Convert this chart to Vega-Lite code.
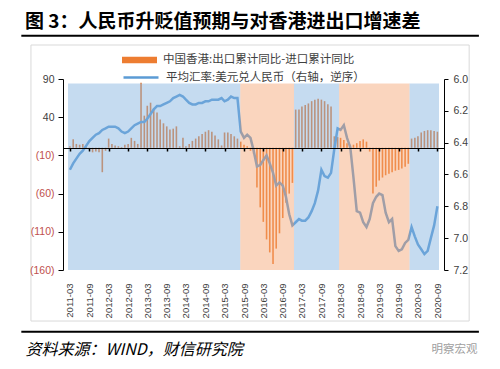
{
  "$schema": "https://vega.github.io/schema/vega-lite/v6.json",
  "width": 381,
  "height": 191,
  "autosize": {"type": "none"},
  "padding": {"left": 63, "top": 79, "right": 56, "bottom": 99},
  "background": "white",
  "title": {
    "text": "图 3：人民币升贬值预期与对香港进出口增速差",
    "anchor": "start",
    "frame": "group",
    "dx": -38,
    "offset": 3,
    "fontSize": 19,
    "font": "Noto Sans CJK SC",
    "fontWeight": "bold",
    "color": "#000000"
  },
  "config": {"view": {"stroke": null}, "axis": {"grid": false}},
  "datasets": {
    "main": [
      {"m": "2011-03-01", "hk": 2, "fx": 6.57},
      {"m": "2011-04-01", "hk": 11, "fx": 6.53},
      {"m": "2011-05-01", "hk": 5, "fx": 6.50},
      {"m": "2011-06-01", "hk": 4, "fx": 6.47},
      {"m": "2011-07-01", "hk": 5, "fx": 6.45},
      {"m": "2011-08-01", "hk": 3, "fx": 6.42},
      {"m": "2011-09-01", "hk": -2, "fx": 6.39},
      {"m": "2011-10-01", "hk": -6, "fx": 6.37},
      {"m": "2011-11-01", "hk": -5, "fx": 6.35},
      {"m": "2011-12-01", "hk": -6, "fx": 6.34},
      {"m": "2012-01-01", "hk": -32, "fx": 6.32},
      {"m": "2012-02-01", "hk": -4, "fx": 6.31},
      {"m": "2012-03-01", "hk": 12, "fx": 6.30},
      {"m": "2012-04-01", "hk": 5, "fx": 6.30},
      {"m": "2012-05-01", "hk": 3, "fx": 6.30},
      {"m": "2012-06-01", "hk": 2, "fx": 6.31},
      {"m": "2012-07-01", "hk": 1, "fx": 6.33},
      {"m": "2012-08-01", "hk": 4, "fx": 6.34},
      {"m": "2012-09-01", "hk": 5, "fx": 6.33},
      {"m": "2012-10-01", "hk": 13, "fx": 6.31},
      {"m": "2012-11-01", "hk": 9, "fx": 6.29},
      {"m": "2012-12-01", "hk": 5, "fx": 6.28},
      {"m": "2013-01-01", "hk": 85, "fx": 6.27},
      {"m": "2013-02-01", "hk": 42, "fx": 6.27},
      {"m": "2013-03-01", "hk": 55, "fx": 6.25},
      {"m": "2013-04-01", "hk": 59, "fx": 6.22},
      {"m": "2013-05-01", "hk": 52, "fx": 6.19},
      {"m": "2013-06-01", "hk": 46, "fx": 6.17},
      {"m": "2013-07-01", "hk": 37, "fx": 6.17},
      {"m": "2013-08-01", "hk": 32, "fx": 6.16},
      {"m": "2013-09-01", "hk": 28, "fx": 6.15},
      {"m": "2013-10-01", "hk": 24, "fx": 6.14},
      {"m": "2013-11-01", "hk": 25, "fx": 6.12},
      {"m": "2013-12-01", "hk": 28, "fx": 6.11},
      {"m": "2014-01-01", "hk": 2, "fx": 6.10},
      {"m": "2014-02-01", "hk": 13, "fx": 6.11},
      {"m": "2014-03-01", "hk": 2, "fx": 6.13},
      {"m": "2014-04-01", "hk": 5, "fx": 6.15},
      {"m": "2014-05-01", "hk": 9, "fx": 6.16},
      {"m": "2014-06-01", "hk": 12, "fx": 6.16},
      {"m": "2014-07-01", "hk": 15, "fx": 6.15},
      {"m": "2014-08-01", "hk": 18, "fx": 6.15},
      {"m": "2014-09-01", "hk": 21, "fx": 6.14},
      {"m": "2014-10-01", "hk": 23, "fx": 6.14},
      {"m": "2014-11-01", "hk": 21, "fx": 6.13},
      {"m": "2014-12-01", "hk": 16, "fx": 6.13},
      {"m": "2015-01-01", "hk": 11, "fx": 6.13},
      {"m": "2015-02-01", "hk": 3, "fx": 6.12},
      {"m": "2015-03-01", "hk": 20, "fx": 6.14},
      {"m": "2015-04-01", "hk": 20, "fx": 6.13},
      {"m": "2015-05-01", "hk": 18, "fx": 6.11},
      {"m": "2015-06-01", "hk": 15, "fx": 6.12},
      {"m": "2015-07-01", "hk": 12, "fx": 6.12},
      {"m": "2015-08-01", "hk": 8, "fx": 6.33},
      {"m": "2015-09-01", "hk": 4, "fx": 6.37},
      {"m": "2015-10-01", "hk": 2, "fx": 6.35},
      {"m": "2015-11-01", "hk": -4, "fx": 6.37},
      {"m": "2015-12-01", "hk": -8, "fx": 6.45},
      {"m": "2016-01-01", "hk": -52, "fx": 6.55},
      {"m": "2016-02-01", "hk": -78, "fx": 6.54},
      {"m": "2016-03-01", "hk": -97, "fx": 6.51},
      {"m": "2016-04-01", "hk": -120, "fx": 6.48},
      {"m": "2016-05-01", "hk": -137, "fx": 6.53},
      {"m": "2016-06-01", "hk": -152, "fx": 6.59},
      {"m": "2016-07-01", "hk": -132, "fx": 6.67},
      {"m": "2016-08-01", "hk": -112, "fx": 6.65},
      {"m": "2016-09-01", "hk": -92, "fx": 6.67},
      {"m": "2016-10-01", "hk": -72, "fx": 6.74},
      {"m": "2016-11-01", "hk": -60, "fx": 6.85},
      {"m": "2016-12-01", "hk": -46, "fx": 6.92},
      {"m": "2017-01-01", "hk": 50, "fx": 6.90},
      {"m": "2017-02-01", "hk": 50, "fx": 6.88},
      {"m": "2017-03-01", "hk": 54, "fx": 6.89},
      {"m": "2017-04-01", "hk": 56, "fx": 6.89},
      {"m": "2017-05-01", "hk": 58, "fx": 6.87},
      {"m": "2017-06-01", "hk": 61, "fx": 6.83},
      {"m": "2017-07-01", "hk": 63, "fx": 6.78},
      {"m": "2017-08-01", "hk": 64, "fx": 6.70},
      {"m": "2017-09-01", "hk": 63, "fx": 6.57},
      {"m": "2017-10-01", "hk": 61, "fx": 6.61},
      {"m": "2017-11-01", "hk": 57, "fx": 6.62},
      {"m": "2017-12-01", "hk": 54, "fx": 6.59},
      {"m": "2018-01-01", "hk": 15, "fx": 6.44},
      {"m": "2018-02-01", "hk": 14, "fx": 6.31},
      {"m": "2018-03-01", "hk": 13, "fx": 6.32},
      {"m": "2018-04-01", "hk": 10, "fx": 6.29},
      {"m": "2018-05-01", "hk": 6, "fx": 6.37},
      {"m": "2018-06-01", "hk": 4, "fx": 6.43},
      {"m": "2018-07-01", "hk": 4, "fx": 6.62},
      {"m": "2018-08-01", "hk": 6, "fx": 6.83},
      {"m": "2018-09-01", "hk": 9, "fx": 6.84},
      {"m": "2018-10-01", "hk": 11, "fx": 6.90},
      {"m": "2018-11-01", "hk": 8, "fx": 6.93},
      {"m": "2018-12-01", "hk": -5, "fx": 6.88},
      {"m": "2019-01-01", "hk": -60, "fx": 6.78},
      {"m": "2019-02-01", "hk": -51, "fx": 6.74},
      {"m": "2019-03-01", "hk": -43, "fx": 6.72},
      {"m": "2019-04-01", "hk": -39, "fx": 6.73},
      {"m": "2019-05-01", "hk": -36, "fx": 6.84},
      {"m": "2019-06-01", "hk": -34, "fx": 6.90},
      {"m": "2019-07-01", "hk": -32, "fx": 6.88},
      {"m": "2019-08-01", "hk": -30, "fx": 7.05},
      {"m": "2019-09-01", "hk": -29, "fx": 7.08},
      {"m": "2019-10-01", "hk": -27, "fx": 7.07},
      {"m": "2019-11-01", "hk": -25, "fx": 7.03},
      {"m": "2019-12-01", "hk": -21, "fx": 7.01},
      {"m": "2020-01-01", "hk": 12, "fx": 6.93},
      {"m": "2020-02-01", "hk": 13, "fx": 6.99},
      {"m": "2020-03-01", "hk": 15, "fx": 7.04},
      {"m": "2020-04-01", "hk": 20, "fx": 7.07},
      {"m": "2020-05-01", "hk": 22, "fx": 7.10},
      {"m": "2020-06-01", "hk": 23, "fx": 7.08},
      {"m": "2020-07-01", "hk": 23, "fx": 7.00},
      {"m": "2020-08-01", "hk": 22, "fx": 6.92},
      {"m": "2020-09-01", "hk": 21, "fx": 6.80}
    ],
    "bands": [
      {"start": "2011-02-11", "end": "2015-07-28", "phase": "升值预期"},
      {"start": "2015-07-28", "end": "2016-12-16", "phase": "贬值预期"},
      {"start": "2016-12-16", "end": "2018-02-15", "phase": "升值预期"},
      {"start": "2018-02-15", "end": "2019-12-13", "phase": "贬值预期"},
      {"start": "2019-12-13", "end": "2020-09-16", "phase": "升值预期"}
    ]
  },
  "layer": [
    {
      "data": {"name": "main"},
      "mark": {"type": "bar", "width": 1.6},
      "encoding": {
        "x": {
          "field": "m",
          "type": "temporal",
          "scale": {"type": "utc", "domain": [{"year": 2011, "month": 2, "date": 11, "utc": true}, {"year": 2020, "month": 9, "date": 16, "utc": true}]},
          "axis": {
            "orient": "bottom",
            "offset": -122,
            "values": [
              {"year": 2011, "month": 3, "date": 1, "utc": true}, {"year": 2011, "month": 9, "date": 1, "utc": true},
              {"year": 2012, "month": 3, "date": 1, "utc": true}, {"year": 2012, "month": 9, "date": 1, "utc": true},
              {"year": 2013, "month": 3, "date": 1, "utc": true}, {"year": 2013, "month": 9, "date": 1, "utc": true},
              {"year": 2014, "month": 3, "date": 1, "utc": true}, {"year": 2014, "month": 9, "date": 1, "utc": true},
              {"year": 2015, "month": 3, "date": 1, "utc": true}, {"year": 2015, "month": 9, "date": 1, "utc": true},
              {"year": 2016, "month": 3, "date": 1, "utc": true}, {"year": 2016, "month": 9, "date": 1, "utc": true},
              {"year": 2017, "month": 3, "date": 1, "utc": true}, {"year": 2017, "month": 9, "date": 1, "utc": true},
              {"year": 2018, "month": 3, "date": 1, "utc": true}, {"year": 2018, "month": 9, "date": 1, "utc": true},
              {"year": 2019, "month": 3, "date": 1, "utc": true}, {"year": 2019, "month": 9, "date": 1, "utc": true},
              {"year": 2020, "month": 3, "date": 1, "utc": true}, {"year": 2020, "month": 9, "date": 1, "utc": true}
            ],
            "labels": false,
            "domainColor": "#000000",
            "domainWidth": 1.2,
            "tickColor": "#000000",
            "tickWidth": 1.5,
            "tickSize": 3,
            "title": null,
            "zindex": 1
          }
        },
        "y": {
          "field": "hk",
          "type": "quantitative",
          "scale": {"domain": [-160, 90], "nice": false, "zero": false},
          "axis": {
            "orient": "left",
            "values": [-160, -110, -60, -10, 40, 90],
            "labelExpr": "datum.value < 0 ? '(' + abs(datum.value) + ')' : datum.label",
            "labelColor": {"condition": {"test": "datum.value < 0", "value": "#C0504D"}, "value": "#404040"},
            "labelFont": "Liberation Sans",
            "labelFontSize": 10.5,
            "labelPadding": 4,
            "domainColor": "#000000",
            "tickColor": "#000000",
            "tickSize": 5,
            "title": null,
            "zindex": 1
          }
        },
        "fill": {
          "datum": "中国香港:出口累计同比-进口累计同比",
          "type": "nominal",
          "scale": {"range": ["#ED7D31"]},
          "legend": {
            "orient": "none",
            "legendX": 59,
            "legendY": -36.5,
            "title": null,
            "padding": 0,
            "symbolType": "M-1,-0.18H1V0.18H-1Z",
            "symbolSize": 1225,
            "symbolStrokeWidth": 0,
            "labelFont": "Noto Sans CJK SC",
            "labelFontSize": 11.5,
            "labelColor": "#404040",
            "labelLimit": 400,
            "labelOffset": 6
          }
        }
      }
    },
    {
      "data": {"name": "main"},
      "mark": {"type": "line", "strokeWidth": 2.5},
      "encoding": {
        "x": {
          "field": "m",
          "type": "temporal",
          "axis": {
            "orient": "bottom",
            "values": [
              {"year": 2011, "month": 3, "date": 1, "utc": true}, {"year": 2011, "month": 9, "date": 1, "utc": true},
              {"year": 2012, "month": 3, "date": 1, "utc": true}, {"year": 2012, "month": 9, "date": 1, "utc": true},
              {"year": 2013, "month": 3, "date": 1, "utc": true}, {"year": 2013, "month": 9, "date": 1, "utc": true},
              {"year": 2014, "month": 3, "date": 1, "utc": true}, {"year": 2014, "month": 9, "date": 1, "utc": true},
              {"year": 2015, "month": 3, "date": 1, "utc": true}, {"year": 2015, "month": 9, "date": 1, "utc": true},
              {"year": 2016, "month": 3, "date": 1, "utc": true}, {"year": 2016, "month": 9, "date": 1, "utc": true},
              {"year": 2017, "month": 3, "date": 1, "utc": true}, {"year": 2017, "month": 9, "date": 1, "utc": true},
              {"year": 2018, "month": 3, "date": 1, "utc": true}, {"year": 2018, "month": 9, "date": 1, "utc": true},
              {"year": 2019, "month": 3, "date": 1, "utc": true}, {"year": 2019, "month": 9, "date": 1, "utc": true},
              {"year": 2020, "month": 3, "date": 1, "utc": true}, {"year": 2020, "month": 9, "date": 1, "utc": true}
            ],
            "format": "%Y-%m",
            "labelAngle": -90,
            "labelOverlap": false,
            "labelFlush": false,
            "labelFont": "Liberation Sans",
            "labelFontSize": 9.5,
            "labelColor": "#404040",
            "labelPadding": 13,
            "domain": false,
            "ticks": false,
            "title": "资料来源：WIND，财信研究院",
            "titleFont": "Noto Sans CJK SC",
            "titleFontSize": 16,
            "titleFontStyle": "italic",
            "titleFontWeight": "normal",
            "titleColor": "#000000",
            "titleAlign": "left",
            "titleBaseline": "alphabetic",
            "titleAnchor": "start",
            "titleX": -38,
            "titleY": 84
          }
        },
        "y": {
          "field": "fx",
          "type": "quantitative",
          "scale": {"domain": [6.0, 7.2], "reverse": true, "nice": false, "zero": false},
          "axis": {
            "orient": "right",
            "values": [6.0, 6.2, 6.4, 6.6, 6.8, 7.0, 7.2],
            "format": ".1f",
            "labelFont": "Liberation Sans",
            "labelFontSize": 10.5,
            "labelColor": "#404040",
            "labelPadding": 5,
            "domainColor": "#000000",
            "tickColor": "#000000",
            "tickSize": 4,
            "title": "明察宏观",
            "titleAngle": 0,
            "titleFont": "Noto Sans CJK SC",
            "titleFontSize": 11.5,
            "titleFontWeight": "normal",
            "titleColor": "#A0A0A0",
            "titleAlign": "center",
            "titleBaseline": "alphabetic",
            "titleX": 10,
            "titleY": 273,
            "zindex": 1
          }
        },
        "stroke": {
          "datum": "平均汇率:美元兑人民币（右轴，逆序）",
          "type": "nominal",
          "scale": {"range": ["#5B9BD5"]},
          "legend": {
            "orient": "none",
            "legendX": 59,
            "legendY": -20.5,
            "title": null,
            "padding": 0,
            "symbolType": "stroke",
            "symbolSize": 1225,
            "symbolStrokeWidth": 2.5,
            "labelFont": "Noto Sans CJK SC",
            "labelFontSize": 11.5,
            "labelColor": "#404040",
            "labelLimit": 400,
            "labelOffset": 6
          }
        }
      }
    },
    {
      "layer": [
        {
          "data": {"name": "bands"},
          "mark": {"type": "rect", "opacity": 0.45},
          "encoding": {
            "x": {"field": "start", "type": "temporal", "axis": null},
            "x2": {"field": "end"},
            "y": {"datum": -160, "type": "quantitative", "scale": {"domain": [-160, 90], "nice": false, "zero": false}, "axis": null},
            "y2": {"datum": 84},
            "fill": {"field": "phase", "type": "nominal", "scale": {"domain": ["升值预期", "贬值预期"], "range": ["#7EAFDE", "#F4A26F"]}, "legend": null}
          }
        },
        {
          "data": {"values": [{}]},
          "mark": {"type": "rule", "color": "#000000", "strokeWidth": 2},
          "encoding": {
            "x": {"datum": {"year": 2009, "month": 11, "date": 27, "utc": true}, "type": "temporal", "axis": null},
            "x2": {"datum": {"year": 2021, "month": 9, "date": 28, "utc": true}},
            "y": {"datum": 146.7, "type": "quantitative", "axis": null}
          }
        },
        {
          "data": {"values": [{}]},
          "mark": {"type": "rule", "color": "#000000", "strokeWidth": 2},
          "encoding": {
            "x": {"datum": {"year": 2009, "month": 11, "date": 27, "utc": true}, "type": "temporal", "axis": null},
            "x2": {"datum": {"year": 2021, "month": 9, "date": 28, "utc": true}},
            "y": {"datum": -240.8, "type": "quantitative", "axis": null}
          }
        },
        {
          "data": {"values": [{}]},
          "mark": {"type": "rect", "fill": null, "stroke": "#D9D9D9", "strokeWidth": 1},
          "encoding": {
            "x": {"datum": {"year": 2010, "month": 2, "date": 26, "utc": true}, "type": "temporal", "axis": null},
            "x2": {"datum": {"year": 2021, "month": 6, "date": 28, "utc": true}},
            "y": {"datum": 134.5, "type": "quantitative", "axis": null},
            "y2": {"datum": -226.8}
          }
        }
      ]
    }
  ],
  "resolve": {
    "scale": {"y": "independent", "fill": "independent"},
    "axis": {"x": "independent"}
  }
}
